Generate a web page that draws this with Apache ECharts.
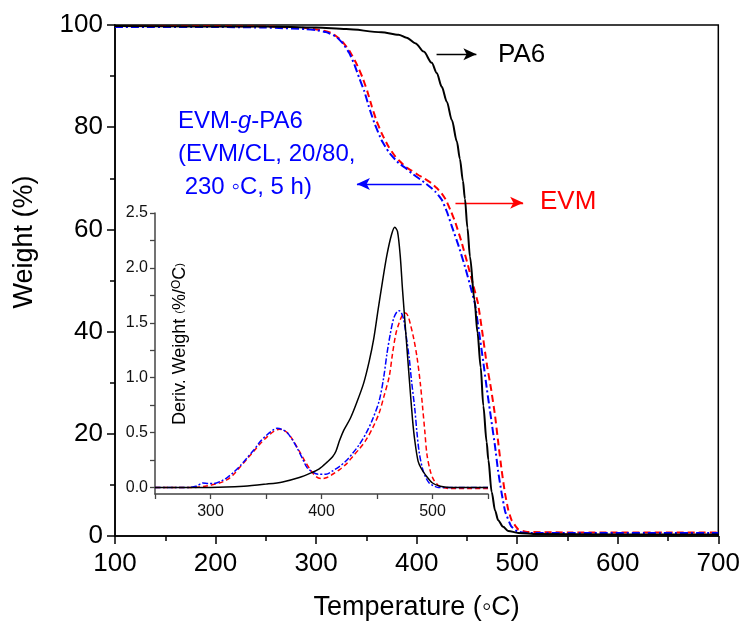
<!DOCTYPE html>
<html>
<head>
<meta charset="utf-8">
<script src="https://cdn.jsdelivr.net/npm/echarts@6/dist/echarts.min.js"></script>
<style>html,body{margin:0;padding:0;background:#fff}#c{width:743px;height:626px}</style>
</head>
<body>
<div id="c"></div>
<script>
// ---- Main TGA curves: [temperature (°C), weight (%)] ----
var pa6Weight = [[100,99.8],[250,99.7],[300,99.5],[330,99.2],[365,98.6],[382,98.1],[390,97.5],[399,96.4],[407,94.8],[415,92.6],[420,90.6],[425,87.9],[430,85.0],[435,81.4],[440,77.2],[443,73.8],[446,69.5],[448,66.0],[450.5,60.3],[453,54.7],[457.5,46.2],[460.5,39.8],[463.7,33.0],[466.3,25.5],[469.6,18.4],[471.3,14.9],[474.6,8.6],[478,5.0],[481,3.1],[486,1.8],[491,1.0],[501,0.6],[520,0.4],[600,0.3],[700,0.3]];
var evmWeight = [[100,99.8],[200,99.8],[250,99.7],[290,99.4],[305,99.0],[316,98.4],[325,97.0],[333,95.0],[340,92.5],[346,89.8],[351,87.0],[355.5,84.0],[360,81.3],[365,78.9],[372,76.2],[379,74.2],[385,73.0],[389,72.2],[395,71.5],[402,70.6],[408,69.9],[415,69.0],[420,68.1],[425,67.0],[429,65.8],[434,63.6],[438.6,61.3],[445,57.3],[451.5,52.6],[456,49.3],[461,45.5],[465,40.3],[469.6,33.8],[474,28.8],[478,23.5],[481,18.5],[484.5,12.9],[487.8,8.4],[491,5.2],[494.4,3.1],[501,1.3],[510,0.8],[550,0.7],[700,0.7]];
var graftWeight = [[100,99.6],[200,99.6],[250,99.5],[290,99.2],[300,99.0],[310,98.6],[320,97.7],[327,96.3],[333,94.5],[338,92.3],[342.6,89.8],[348,87.0],[352.5,84.0],[358,80.8],[365,77.5],[372,75.2],[379,73.6],[382,73.0],[389,72.0],[395,71.0],[402,70.0],[409,69.0],[414,68.2],[419,67.3],[425,65.8],[430,63.5],[435,60.6],[442,56.6],[448.5,52.4],[453,49.2],[458,45.4],[462,40.0],[466.3,34.0],[470,28.5],[474,23.0],[478,17.5],[481,12.7],[484.5,8.4],[488,4.8],[494,1.9],[500,0.9],[510,0.6],[700,0.6]];

// ---- Inset DTG curves: [temperature (°C), deriv. weight (%/°C)] ----
var pa6Deriv = [[250,0],[300,0.0],[330,0.01],[350,0.03],[365,0.05],[380,0.09],[390,0.13],[398,0.17],[405,0.23],[410,0.28],[413,0.33],[416,0.42],[420,0.52],[426,0.63],[432,0.78],[438,0.95],[443,1.15],[447,1.35],[451,1.62],[455,1.88],[459,2.12],[463,2.30],[466,2.37],[468.5,2.33],[471,2.10],[473,1.80],[476,1.40],[479,1.00],[482,0.62],[484,0.43],[487,0.24],[490,0.17],[494,0.11],[500,0.04],[507,0.01],[515,0.0],[550,0.0]];
var evmDeriv = [[250,0],[285,0],[295,0.01],[300,0.02],[308,0.04],[315,0.07],[321,0.12],[327,0.19],[333,0.26],[339,0.33],[345,0.40],[351,0.46],[357,0.51],[362,0.53],[366,0.52],[370,0.49],[375,0.42],[380,0.33],[385,0.24],[390,0.16],[395,0.10],[400,0.08],[405,0.09],[410,0.12],[416,0.16],[422,0.21],[428,0.28],[434,0.35],[440,0.43],[446,0.54],[452,0.68],[456,0.82],[461,1.01],[464,1.22],[467,1.40],[470,1.50],[473,1.57],[476,1.59],[478,1.56],[480,1.49],[483,1.36],[486,1.19],[489,0.95],[491,0.74],[493,0.52],[495,0.30],[498,0.15],[501,0.07],[505,0.02],[509,0.0],[515,-0.01],[550,-0.01]];
var graftDeriv = [[250,0],[280,0],[287,0.01],[293,0.04],[298,0.035],[303,0.035],[310,0.06],[315,0.09],[321,0.14],[327,0.20],[333,0.27],[339,0.34],[345,0.42],[351,0.48],[356,0.52],[360,0.54],[364,0.53],[369,0.50],[374,0.43],[378,0.36],[383,0.26],[387,0.18],[392,0.14],[397,0.12],[404,0.12],[410,0.15],[416,0.19],[422,0.24],[428,0.31],[434,0.39],[440,0.49],[446,0.62],[452,0.79],[456,1.00],[459,1.22],[462,1.40],[465,1.54],[468,1.60],[470,1.61],[472,1.59],[474,1.53],[476,1.40],[479,1.18],[481,0.98],[484,0.72],[486,0.50],[488,0.32],[491,0.17],[494,0.09],[497,0.04],[500,0.02],[505,0.0],[550,0.0]];

// ---- Tick labels ----
var mainXTicks = [100,200,300,400,500,600,700];
var mainYTicks = [0,20,40,60,80,100];
var insetXLabels = [300,400,500];
var insetXTickVals = [250,300,350,400,450,500,550];
var insetYLabels = [0,0.5,1.0,1.5,2.0,2.5];
var insetYTickVals = [0,0.25,0.5,0.75,1.0,1.25,1.5,1.75,2.0,2.25,2.5];

// ---- Annotation arrows (data coords of main plot) ----
var arrowPA6 = [[419.8,94.3],[459.4,94.3]];
var arrowEVM = [[438.6,65.2],[505.9,65.2]];
var arrowGraft = [[405,68.9],[340.6,68.9]];

var FONT = 'Liberation Sans, Arial, sans-serif';
var chart = echarts.init(document.getElementById('c'), null, {renderer:'canvas'});

function arrowLine(pts, color){
  return {
    silent:true, symbol:['none','arrow'], symbolSize:[9,13], animation:false,
    label:{show:false},
    lineStyle:{color:color, width:1.3, type:'solid'},
    emphasis:{disabled:true},
    data:[[{coord:pts[0]},{coord:pts[1]}]]
  };
}

var option = {
  animation:false,
  backgroundColor:'#fff',
  textStyle:{fontFamily:FONT},
  grid:[
    {left:115, top:25, width:606, height:511, show:true, borderColor:'#000', borderWidth:1.5, containLabel:false},
    {left:155, top:213, width:333, height:281, show:false, containLabel:false}
  ],
  xAxis:[
    {gridIndex:0, type:'value', min:100, max:700, interval:100,
      axisLine:{show:true, onZero:false, lineStyle:{color:'#000', width:1.5}},
      axisTick:{show:true, inside:false, length:8, lineStyle:{color:'#000', width:1.5}},
      minorTick:{show:true, splitNumber:2, length:5, lineStyle:{color:'#000', width:1.5}},
      splitLine:{show:false},
      axisLabel:{fontSize:26, color:'#000', margin:15, fontFamily:FONT, customValues:mainXTicks},
      name:'Temperature (\u25E6C)', nameLocation:'middle', nameGap:58,
      nameTextStyle:{fontSize:27, color:'#000', fontFamily:FONT}
    },
    {gridIndex:1, type:'value', min:250, max:550,
      axisLine:{show:true, onZero:false, lineStyle:{color:'#444', width:1.5}},
      axisTick:{show:true, inside:false, length:5, customValues:insetXTickVals, lineStyle:{color:'#444', width:1.3}},
      splitLine:{show:false},
      axisLabel:{fontSize:16, color:'#111', margin:10, fontFamily:FONT, customValues:insetXLabels}
    }
  ],
  yAxis:[
    {gridIndex:0, type:'value', min:0, max:100, interval:20,
      axisLine:{show:true, onZero:false, lineStyle:{color:'#000', width:1.5}},
      axisTick:{show:true, inside:false, length:8, lineStyle:{color:'#000', width:1.5}},
      minorTick:{show:true, splitNumber:2, length:5, lineStyle:{color:'#000', width:1.5}},
      splitLine:{show:false},
      axisLabel:{fontSize:26, color:'#000', margin:12, fontFamily:FONT, customValues:mainYTicks}
    },
    {gridIndex:1, type:'value', min:-0.06, max:2.5,
      axisLine:{show:true, onZero:false, lineStyle:{color:'#444', width:1.5}},
      axisTick:{show:true, inside:false, length:5, customValues:insetYTickVals, lineStyle:{color:'#444', width:1.3}},
      splitLine:{show:false},
      axisLabel:{fontSize:16, color:'#111', margin:7, fontFamily:FONT, customValues:insetYLabels,
        formatter:function(v){return v.toFixed(1);}}
    }
  ],
  series:[
    {type:'line', xAxisIndex:0, yAxisIndex:0, data:evmWeight, showSymbol:false, smooth:0.12,
      lineStyle:{color:'#ff0000', width:2, type:[7,4]}, z:3, markLine:arrowLine(arrowEVM,'#ff0000')},
    {type:'line', xAxisIndex:0, yAxisIndex:0, data:graftWeight, showSymbol:false, smooth:0.12,
      lineStyle:{color:'#0000ff', width:2, type:[8,3,2,3]}, z:4, markLine:arrowLine(arrowGraft,'#0000ff')},
    {type:'line', xAxisIndex:0, yAxisIndex:0, data:pa6Weight, showSymbol:false, smooth:0.3, smoothMonotone:'x',
      lineStyle:{color:'#000', width:2}, z:5, markLine:arrowLine(arrowPA6,'#000')},
    {type:'line', xAxisIndex:1, yAxisIndex:1, data:evmDeriv, showSymbol:false, smooth:0.3,
      lineStyle:{color:'#ff0000', width:1.5, type:[5,3]}, z:3},
    {type:'line', xAxisIndex:1, yAxisIndex:1, data:graftDeriv, showSymbol:false, smooth:0.3,
      lineStyle:{color:'#0000ff', width:1.5, type:[6,2,2,2]}, z:4},
    {type:'line', xAxisIndex:1, yAxisIndex:1, data:pa6Deriv, showSymbol:false, smooth:0.3,
      lineStyle:{color:'#000', width:1.5}, z:5}
  ],
  graphic:[
    {type:'text', x:24.5, y:242, rotation:Math.PI/2, silent:true,
      style:{text:'Weight (%)', font:'27px '+FONT, fill:'#000', align:'center', verticalAlign:'middle'}},
    {type:'text', x:180, y:344, rotation:Math.PI/2, silent:true,
      style:{text:'Deriv. Weight {s|(}%/{sup|O}C{s|)}', font:'18px '+FONT, fill:'#000', align:'center', verticalAlign:'middle',
        rich:{s:{fontSize:11, fontFamily:FONT, fill:'#000'}, sup:{fontSize:12, fontFamily:FONT, fill:'#000', verticalAlign:'top', padding:[0,0,6,0]}}}},
    {type:'text', x:498, y:55, silent:true,
      style:{text:'PA6', font:'26px '+FONT, fill:'#000', align:'left', verticalAlign:'middle'}},
    {type:'text', x:540, y:202, silent:true,
      style:{text:'EVM', font:'26px '+FONT, fill:'#ff0000', align:'left', verticalAlign:'middle'}},
    {type:'text', x:178, y:121, silent:true,
      style:{text:'EVM-{i|g}-PA6', font:'24px '+FONT, fill:'#0000ff', align:'left', verticalAlign:'middle',
        rich:{i:{fontStyle:'italic', fontSize:24, fontFamily:FONT, fill:'#0000ff'}}}},
    {type:'text', x:178, y:154, silent:true,
      style:{text:'(EVM/CL, 20/80,', font:'24px '+FONT, fill:'#0000ff', align:'left', verticalAlign:'middle'}},
    {type:'text', x:178, y:187, silent:true,
      style:{text:' 230 \u25E6C, 5 h)', font:'24px '+FONT, fill:'#0000ff', align:'left', verticalAlign:'middle'}}
  ]
};
chart.setOption(option);
</script>
</body>
</html>
